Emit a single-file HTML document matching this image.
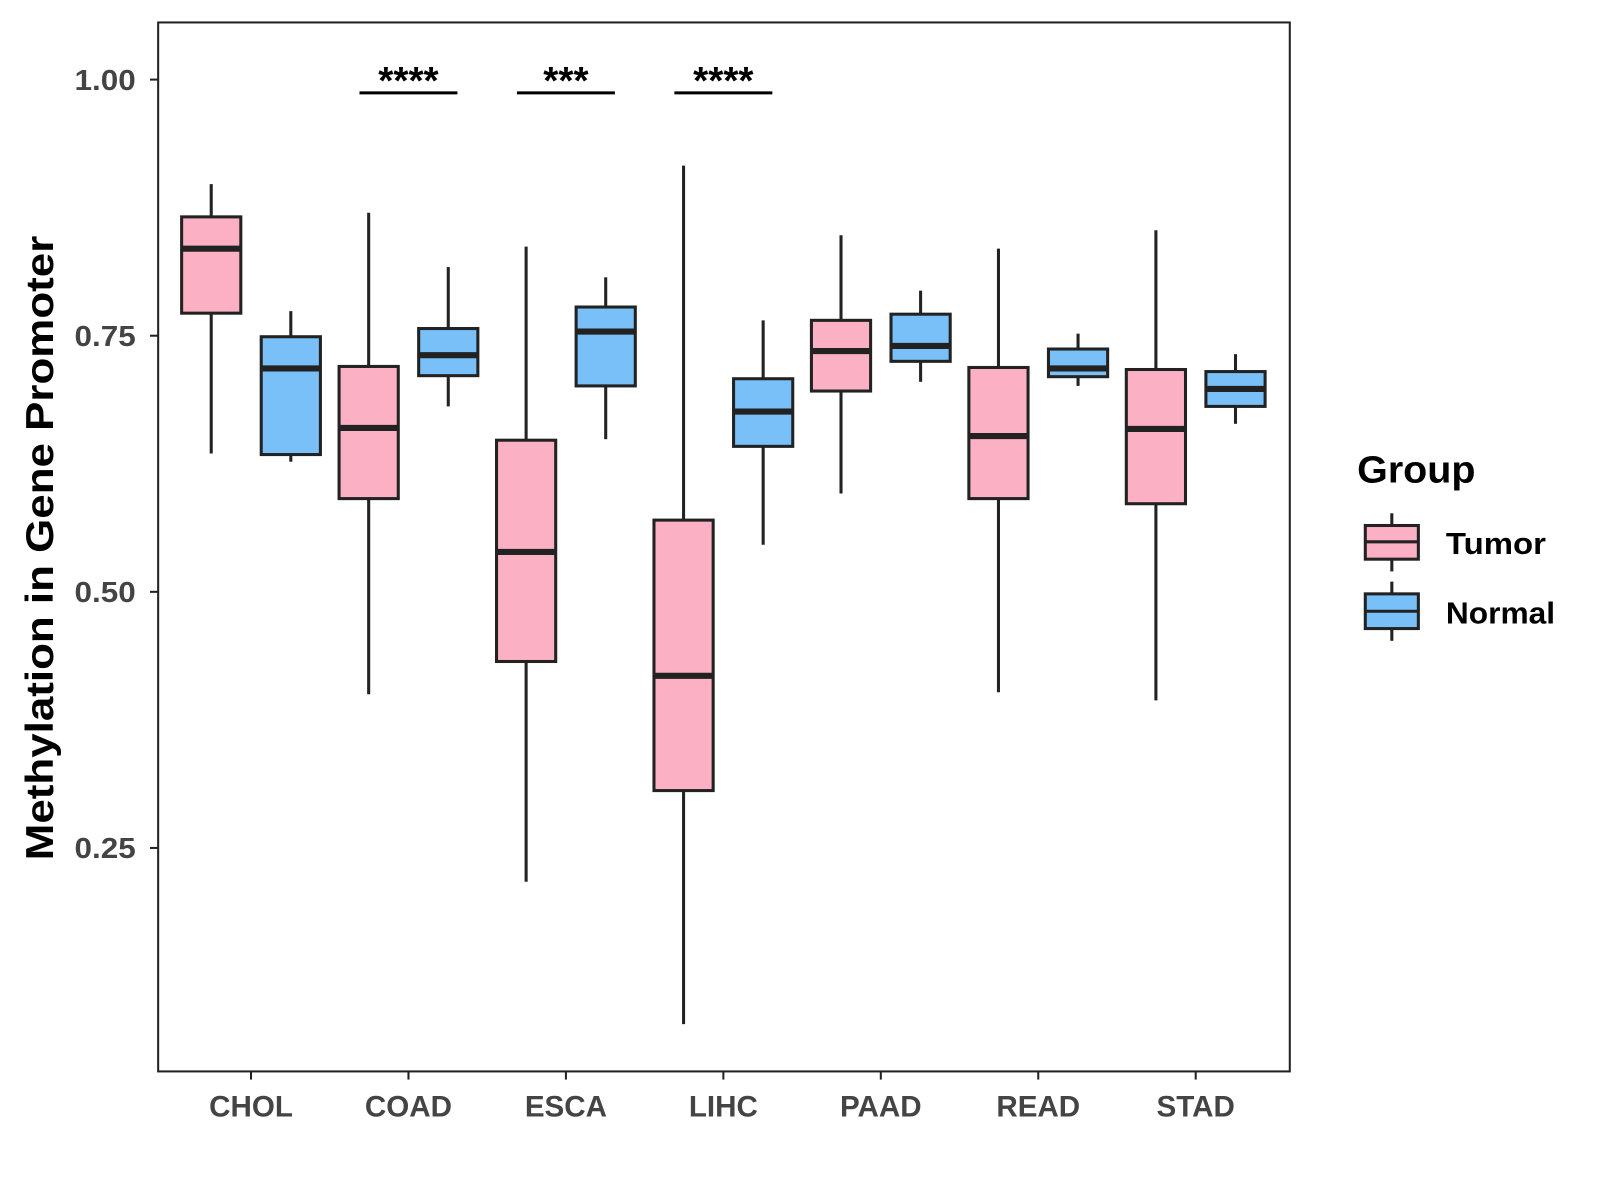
<!DOCTYPE html>
<html><head><meta charset="utf-8"><style>
body{margin:0;background:#fff}
svg{font-family:"Liberation Sans",Arial,sans-serif;display:block}
</style></head><body>
<svg id="chart" width="1600" height="1200" viewBox="0 0 1600 1200">
<rect x="0" y="0" width="1600" height="1200" fill="#fff"/>
<g transform="scale(1.0204)">
<g id="plot"></g>
<text transform="translate(52,537) rotate(-90)" text-anchor="middle" font-size="38" font-weight="bold" textLength="612" lengthAdjust="spacingAndGlyphs">Methylation in Gene Promoter</text>
<g>
<text x="1330" y="473" font-size="37" font-weight="bold" textLength="116" lengthAdjust="spacingAndGlyphs">Group</text>
<g>
<line x1="1364" y1="503" x2="1364" y2="560" stroke="#222" stroke-width="3"/>
<rect x="1338" y="515" width="52" height="33" fill="#FBB1C3" stroke="#222" stroke-width="3"/>
<line x1="1338" y1="531" x2="1390" y2="531" stroke="#222" stroke-width="3"/>
<text x="1417" y="543" font-size="30" font-weight="bold" textLength="98" lengthAdjust="spacingAndGlyphs">Tumor</text></g>
<g>
<line x1="1364" y1="570" x2="1364" y2="628" stroke="#222" stroke-width="3"/>
<rect x="1338" y="582" width="52" height="34" fill="#78C0F7" stroke="#222" stroke-width="3"/>
<line x1="1338" y1="599" x2="1390" y2="599" stroke="#222" stroke-width="3"/>
<text x="1417" y="611" font-size="30" font-weight="bold" textLength="107" lengthAdjust="spacingAndGlyphs">Normal</text></g>
</g>
</g>
</svg>
<script>
const categories=["CHOL","COAD","ESCA","LIHC","PAAD","READ","STAD"];
const tumorMin=[0.635,0.400,0.217,0.078,0.596,0.402,0.394];
const tumorQ1=[0.772,0.591,0.432,0.306,0.696,0.591,0.586];
const tumorMed=[0.835,0.660,0.539,0.418,0.735,0.652,0.659];
const tumorQ3=[0.866,0.720,0.648,0.570,0.765,0.719,0.717];
const tumorMax=[0.898,0.870,0.837,0.916,0.848,0.835,0.853];
const normalMin=[0.627,0.681,0.649,0.546,0.705,0.701,0.664];
const normalQ1=[0.634,0.711,0.701,0.642,0.725,0.710,0.681];
const normalMed=[0.718,0.731,0.754,0.676,0.740,0.718,0.698];
const normalQ3=[0.749,0.757,0.778,0.708,0.771,0.737,0.715];
const normalMax=[0.774,0.817,0.807,0.765,0.794,0.752,0.732];
const yTicks=[0.25,0.50,0.75,1.00];
const yTickLabels=["0.25","0.50","0.75","1.00"];
const sigCats=["COAD","ESCA","LIHC"];
const sigLabels=["****","***","****"];

const NS="http://www.w3.org/2000/svg";
const L=155,R=1264,T=22,B=1050;
const y=v=>78+(1-v)*1004;
const x=i=>246+i*154.3;
const g=document.getElementById('plot');
function mk(t,a,p){const e=document.createElementNS(NS,t);for(const k in a)e.setAttribute(k,a[k]);(p||g).appendChild(e);return e;}

const panel=mk('rect',{x:L,y:T,width:R-L,height:B-T,fill:'none',stroke:'#222','stroke-width':2});



yTicks.forEach((v,i)=>{
  const tk=mk('line',{x1:L-8,x2:L,y1:y(v),y2:y(v),stroke:'#222','stroke-width':2});
  
  
  const t=mk('text',{x:L-22,y:y(v)+10,'text-anchor':'end','font-size':28,'font-weight':'bold',fill:'#444',textLength:60,lengthAdjust:'spacingAndGlyphs'});
  t.textContent=yTickLabels[i];
  
  
});
categories.forEach((c,i)=>{
  const tk=mk('line',{x1:x(i),x2:x(i),y1:B,y2:B+8,stroke:'#222','stroke-width':2});
  
  
  const t=mk('text',{x:x(i),y:1094,'text-anchor':'middle','font-size':29,'font-weight':'bold',fill:'#444'});
  t.textContent=c;
  
  
});
function box(cx,mn,q1,md,q3,mx,fill,name){
  const bg=mk('g',{});
  
  
  mk('line',{x1:cx,x2:cx,y1:y(mx),y2:y(q3),stroke:'#222','stroke-width':3},bg);
  mk('line',{x1:cx,x2:cx,y1:y(q1),y2:y(mn),stroke:'#222','stroke-width':3},bg);
  mk('rect',{x:cx-29,y:y(q3),width:58,height:y(q1)-y(q3),fill:fill,stroke:'#222','stroke-width':3},bg);
  mk('line',{x1:cx-29,x2:cx+29,y1:y(md),y2:y(md),stroke:'#222','stroke-width':6},bg);
}
categories.forEach((c,i)=>{
  box(x(i)-39,tumorMin[i],tumorQ1[i],tumorMed[i],tumorQ3[i],tumorMax[i],'#FBB1C3','box-tumor-'+c.toLowerCase());
  box(x(i)+39,normalMin[i],normalQ1[i],normalMed[i],normalQ3[i],normalMax[i],'#78C0F7','box-normal-'+c.toLowerCase());
});
sigCats.forEach((c,k)=>{
  const i=categories.indexOf(c);
  const l=mk('line',{x1:x(i)-48,x2:x(i)+48,y1:91,y2:91,stroke:'#000','stroke-width':3});
  
  
  const t=mk('text',{x:x(i),y:92,'text-anchor':'middle','font-size':38,'font-weight':'bold'});
  t.textContent=sigLabels[k];
  
  
});
</script>
</body></html>
